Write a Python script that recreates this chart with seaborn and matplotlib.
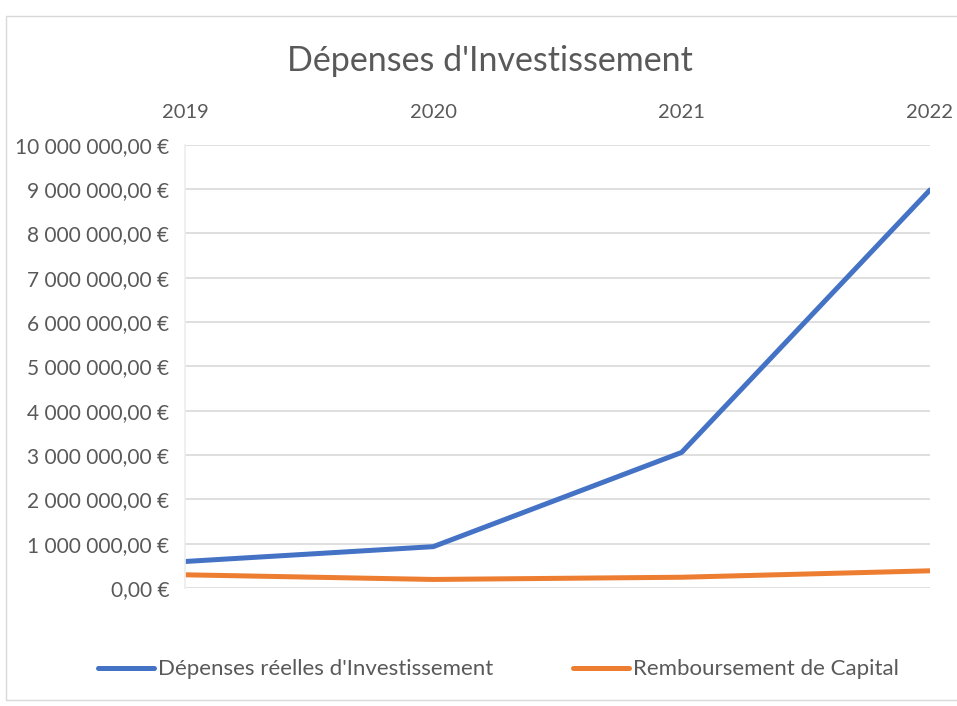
import matplotlib
matplotlib.use("Agg")
import matplotlib.pyplot as plt
from matplotlib.ticker import FuncFormatter
from matplotlib.patches import Rectangle
import seaborn as sns
import pandas as pd

years = ["2019", "2020", "2021", "2022"]
depenses = [600000, 935000, 3060000, 8980000]
remboursement = [300000, 195000, 245000, 390000]
series_names = ["Dépenses réelles d'Investissement", "Remboursement de Capital"]
colors = ["#4472C4", "#ED7D31"]

df = pd.DataFrame({
    "Année": years * 2,
    "Valeur": depenses + remboursement,
    "Série": [series_names[0]] * 4 + [series_names[1]] * 4,
})

sns.set_theme(style="white")
plt.rcParams["font.family"] = ["Lato", "DejaVu Sans"]
txt = "#595959"

fig = plt.figure(figsize=(9.57, 7.06), dpi=100)
ax = fig.add_axes([0.193, 0.167, 0.779, 0.628])

sns.lineplot(data=df, x="Année", y="Valeur", hue="Série", palette=colors,
             linewidth=3.6, ax=ax, sort=False, legend=False)

ax.set_ylim(0, 10000000)
ax.set_yticks(range(0, 10000001, 1000000))
def fmt(v, pos):
    s = f"{int(round(v)):,}".replace(",", " ")
    return f"{s},00 €"
ax.yaxis.set_major_formatter(FuncFormatter(fmt))
ax.set_xlim(-0.001, 3.001)
ax.xaxis.tick_top()
ax.tick_params(axis="x", length=0, pad=17, labelsize=14.5, colors=txt)
ax.tick_params(axis="y", length=0, pad=11, labelsize=15, colors=txt)
ax.grid(axis="y", color="#D9D9D9", linewidth=1.2)
ax.set_axisbelow(True)
for s in ["top", "right", "bottom"]:
    ax.spines[s].set_visible(False)
ax.spines["left"].set_color("#EDEDED")
ax.set_xlabel("")
ax.set_ylabel("")

fig.text(0.512, 0.913, "Dépenses d'Investissement", ha="center", va="center",
         fontsize=24.5, color=txt)

handles = [plt.Line2D([], [], color=c, linewidth=3.6, solid_capstyle="round") for c in colors]
fig.legend(handles, series_names, loc="center", bbox_to_anchor=(0.521, 0.052),
           ncol=2, frameon=False, fontsize=16, labelcolor=txt,
           handlelength=2.5, handletextpad=0.2, columnspacing=3.6)

fig.patches.append(Rectangle((0.006, 0.008), 1.2, 0.97, transform=fig.transFigure,
                             fill=False, edgecolor="#D9D9D9", linewidth=1))

fig.savefig("out.png", dpi=100)
